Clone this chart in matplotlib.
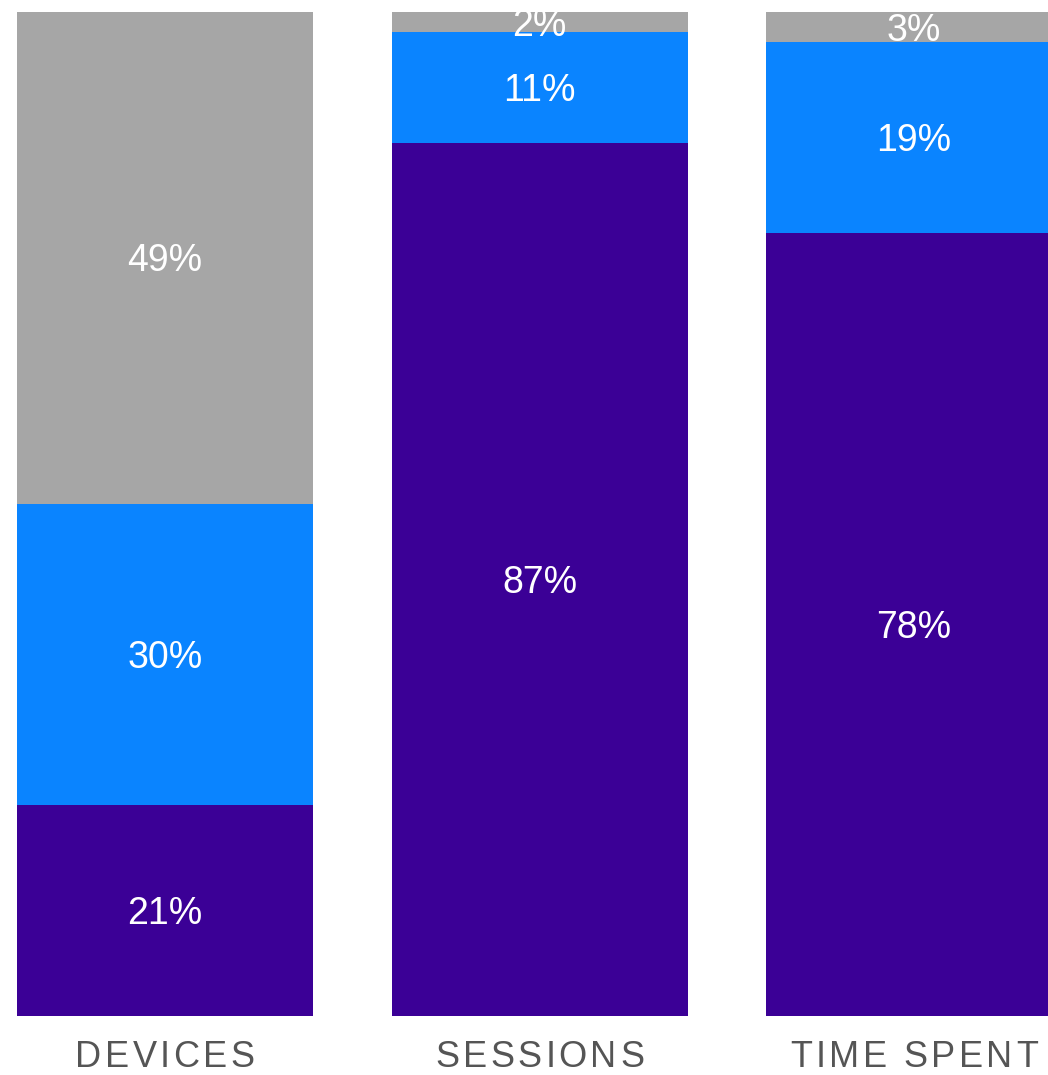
"""
Stacked 100% bars: share of devices, sessions and time spent.
"""

import matplotlib
matplotlib.use("Agg")
import matplotlib.pyplot as plt

# ---------------------------------------------------------------------------
# Data
# ---------------------------------------------------------------------------

categories = ["DEVICES", "SESSIONS", "TIME SPENT"]
bottom_share = [21, 87, 78]   # purple
middle_share = [30, 11, 19]   # blue
top_share = [49, 2, 3]        # gray

series = [bottom_share, middle_share, top_share]
colors = ["#3b0096", "#0a84ff", "#a6a6a6"]

# ---------------------------------------------------------------------------
# Chart
# ---------------------------------------------------------------------------

plt.rcParams["font.family"] = ["Liberation Sans", "DejaVu Sans"]

W, H = 1048, 1075
fig = plt.figure(figsize=(W / 100, H / 100), dpi=100)
ax = fig.add_axes([0.0, 59 / H, 1.0, 1004 / H])

x = list(range(len(categories)))
width = 296 / 374.5
pct_size = 27

base = [0] * len(categories)
for values, color in zip(series, colors):
    ax.bar(x, values, width=width, bottom=base, color=color, linewidth=0)
    for xi, b, v in zip(x, base, values):
        # baseline shifted down by half the cap height -> digits visually centred
        ax.annotate(f"{v}%", xy=(xi, b + v / 2), xytext=(0, -0.36 * pct_size),
                    textcoords="offset points", ha="center", va="baseline",
                    color="white", fontsize=pct_size, clip_on=True)
    base = [b + v for b, v in zip(base, values)]

ax.set_ylim(0, 100)
ax.set_xlim(-165 / 374.5, (W - 165) / 374.5)
ax.axis("off")

# category labels with letter spacing, drawn char by char
label_size = 26
spacing = 3.5  # px between letters
label_y = 1 - 1067 / H  # baseline
renderer = fig.canvas.get_renderer()
for xi, name in zip(x, categories):
    cx = ax.transData.transform((xi, 0))[0]
    chars = []
    widths = []
    for ch in name:
        t = fig.text(0, label_y, ch, fontsize=label_size, color="#555555",
                     va="baseline", ha="left")
        if ch == " ":
            w = 0.278 * label_size * 100 / 72
        else:
            w = t.get_window_extent(renderer).width
        chars.append(t)
        widths.append(w)
    total = sum(widths) + spacing * (len(name) - 1)
    pos = cx - total / 2
    for t, w in zip(chars, widths):
        t.set_x(pos / W)
        pos += w + spacing

fig.savefig("out.png", dpi=100)
plt.close(fig)
